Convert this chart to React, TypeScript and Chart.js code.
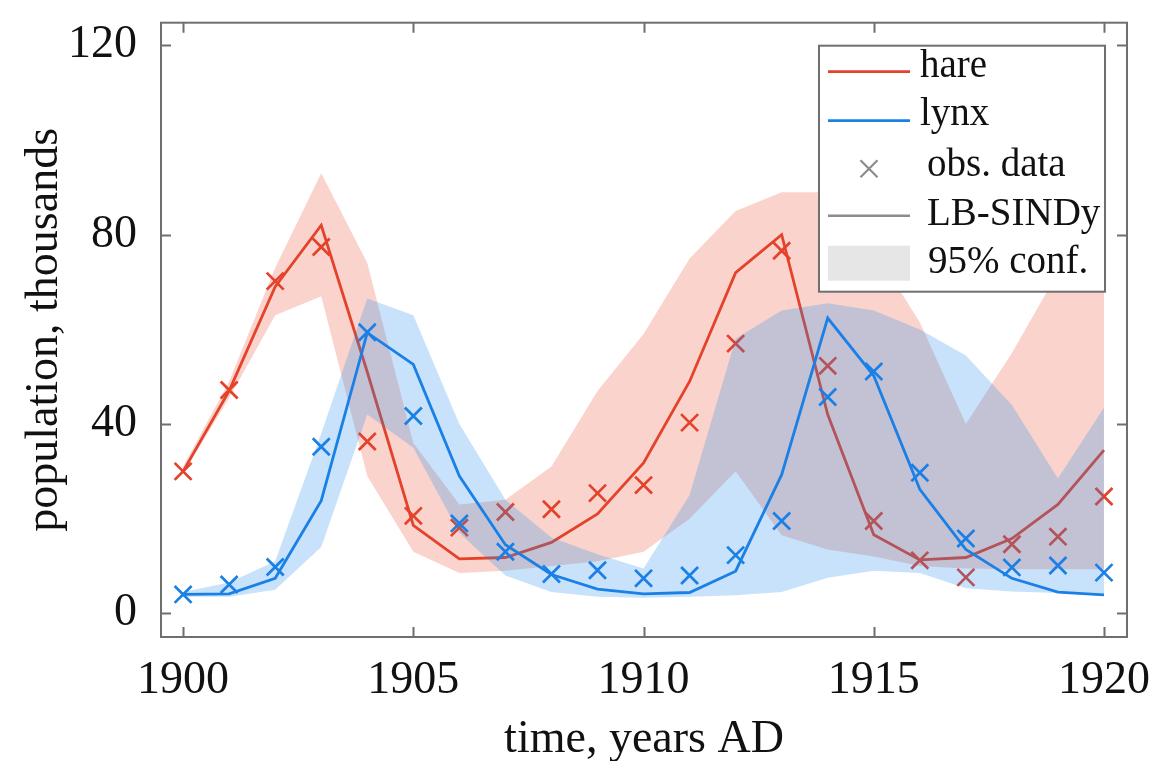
import React, { useEffect, useRef } from 'react';
import { Chart, registerables } from 'chart.js';

Chart.register(...registerables);

// ---------- data ----------
const years = [1900, 1901, 1902, 1903, 1904, 1905, 1906, 1907, 1908, 1909, 1910, 1911, 1912, 1913, 1914, 1915, 1916, 1917, 1918, 1919, 1920];
const hareObs = [30, 47.2, 70.2, 77.4, 36.3, 20.6, 18.1, 21.4, 22, 25.4, 27.1, 40.3, 57, 76.6, 52.3, 19.5, 11.2, 7.6, 14.6, 16.2, 24.7];
const lynxObs = [4, 6.1, 9.8, 35.2, 59.4, 41.7, 19, 13, 8.3, 9.1, 7.4, 8, 12.3, 19.5, 45.7, 51.1, 29.7, 15.8, 9.7, 10.1, 8.6];
const hareFit = [30, 47, 69, 82, 51, 18.6, 11.5, 11.8, 15, 21, 31.8, 49, 72, 80, 42, 16.6, 11.3, 11.8, 15.8, 23, 34.5];
const lynxFit = [4, 4.1, 7.4, 23.8, 59.3, 52.6, 29, 14.5, 8.2, 5.1, 4.1, 4.4, 8.9, 29.3, 62.4, 50.2, 26.2, 13.5, 7.4, 4.5, 3.9];
const hareUpper = [31, 49, 73, 93, 74, 36, 23, 24, 31, 47, 59, 75, 85, 89, 89, 77, 61.5, 40, 55, 72, 76];
const hareLower = [29.5, 45.5, 63, 67, 29, 13, 8.5, 9, 10, 11, 13, 20, 30, 16.5, 13.5, 12, 10, 9.5, 9.3, 9.3, 9.3];
const lynxUpper = [4.5, 6.5, 11, 38, 66.5, 63, 40, 24, 16, 12.5, 9.5, 25, 58, 64, 65.5, 64, 60, 54.5, 44, 28.5, 43.5];
const lynxLower = [3.5, 3.5, 5, 14, 42, 35, 17, 8, 4.5, 3.5, 3.3, 3.5, 3.8, 4.5, 7.5, 9, 8.5, 5.3, 4.6, 4.3, 4];

const xTickValues = [1900, 1905, 1910, 1915, 1920];
const yTickValues = [0, 40, 80, 120];
const legendLabels = ['hare', 'lynx', 'obs. data', 'LB-SINDy', '95% conf.'];
const xTitle = 'time, years AD';
const yTitle = 'population, thousands';

// ---------- styles ----------
const RED = '#e4422a';
const BLUE = '#1b80e6';
const RED_FILL = 'rgba(235, 80, 55, 0.25)';
const BLUE_FILL = 'rgba(30, 140, 235, 0.25)';
const FRAME = '#6f6f6f';
const FONT = '"Liberation Serif", "Times New Roman", serif';

const pts = (ys: number[]) => years.map((x, i) => ({ x, y: ys[i] }));

const bandEdge = (data: number[], order: number, fill: any, color: string) => ({
  type: 'line',
  data: pts(data),
  borderWidth: 0,
  borderColor: 'rgba(0,0,0,0)',
  backgroundColor: color,
  pointRadius: 0,
  tension: 0,
  fill,
  order,
});

const fitLine = (data: number[], color: string, order: number) => ({
  type: 'line',
  data: pts(data),
  borderColor: color,
  borderWidth: 2.8,
  pointRadius: 0,
  tension: 0,
  fill: false,
  order,
});

const obsPoints = (data: number[], color: string, order: number) => ({
  type: 'line',
  data: pts(data),
  showLine: false,
  pointStyle: 'crossRot',
  pointRadius: 12,
  pointBorderWidth: 2.7,
  pointBorderColor: color,
  pointBackgroundColor: color,
  fill: false,
  order,
});

const drawCross = (ctx: CanvasRenderingContext2D, x: number, y: number, h: number) => {
  ctx.beginPath();
  ctx.moveTo(x - h, y - h);
  ctx.lineTo(x + h, y + h);
  ctx.moveTo(x + h, y - h);
  ctx.lineTo(x - h, y + h);
  ctx.stroke();
};

const framePlugin = {
  id: 'frameAndLegend',
  afterDatasetsDraw(chart: any) {
    const { ctx, chartArea: a, scales } = chart;
    ctx.save();
    ctx.strokeStyle = FRAME;
    ctx.lineWidth = 2;
    ctx.strokeRect(a.left, a.top, a.right - a.left, a.bottom - a.top);
    const tl = 10;
    ctx.beginPath();
    xTickValues.forEach((v) => {
      const x = Math.round(scales.x.getPixelForValue(v)) + 0.5;
      ctx.moveTo(x, a.bottom);
      ctx.lineTo(x, a.bottom - tl);
      ctx.moveTo(x, a.top);
      ctx.lineTo(x, a.top + tl);
    });
    yTickValues.forEach((v) => {
      const y = Math.round(scales.y.getPixelForValue(v)) + 0.5;
      ctx.moveTo(a.left, y);
      ctx.lineTo(a.left + tl, y);
      ctx.moveTo(a.right, y);
      ctx.lineTo(a.right - tl, y);
    });
    ctx.stroke();
    ctx.restore();
  },
  afterDraw(chart: any) {
    const { ctx, chartArea: a } = chart;
    const left = a.right - 308;
    const right = a.right - 22;
    const top = a.top + 23;
    const bottom = a.top + 269;
    ctx.save();
    ctx.fillStyle = '#ffffff';
    ctx.fillRect(left, top, right - left, bottom - top);
    ctx.strokeStyle = FRAME;
    ctx.lineWidth = 2;
    ctx.strokeRect(left, top, right - left, bottom - top);

    const sx0 = left + 9;
    const sx1 = left + 91;
    const rows = [26, 75, 123, 170, 218];
    const baselines = [31, 79, 130, 179, 227];
    const textX = [101, 101, 108, 108, 109];

    ctx.lineWidth = 2.8;
    ctx.strokeStyle = RED;
    ctx.beginPath(); ctx.moveTo(sx0, top + rows[0]); ctx.lineTo(sx1, top + rows[0]); ctx.stroke();
    ctx.strokeStyle = BLUE;
    ctx.beginPath(); ctx.moveTo(sx0, top + rows[1]); ctx.lineTo(sx1, top + rows[1]); ctx.stroke();
    ctx.strokeStyle = '#8c8c8c';
    ctx.lineWidth = 2.2;
    drawCross(ctx, (sx0 + sx1) / 2, top + rows[2], 8.5);
    ctx.lineWidth = 2.4;
    ctx.beginPath(); ctx.moveTo(sx0, top + rows[3]); ctx.lineTo(sx1, top + rows[3]); ctx.stroke();
    ctx.fillStyle = '#e6e6e6';
    ctx.fillRect(sx0, top + 200, sx1 - sx0, 35);

    ctx.fillStyle = '#111111';
    ctx.font = `39px ${FONT}`;
    ctx.textAlign = 'left';
    ctx.textBaseline = 'alphabetic';
    legendLabels.forEach((t, i) => {
      ctx.fillText(t, left + textX[i], top + baselines[i]);
    });
    ctx.restore();
  },
};

export default function App() {
  const ref = useRef<HTMLCanvasElement>(null);
  useEffect(() => {
    const tickFont = { family: FONT, size: 46, lineHeight: 1.2 };
    const titleFont = { family: FONT, size: 46, lineHeight: 1 };
    const chart = new Chart(ref.current as HTMLCanvasElement, {
      type: 'line',
      data: {
        datasets: [
          bandEdge(hareLower, 100, false, RED_FILL),
          bandEdge(hareUpper, 99, 0, RED_FILL),
          fitLine(hareFit, RED, 98),
          obsPoints(hareObs, RED, 97),
          bandEdge(lynxLower, 96, false, BLUE_FILL),
          bandEdge(lynxUpper, 95, 4, BLUE_FILL),
          fitLine(lynxFit, BLUE, 94),
          obsPoints(lynxObs, BLUE, 93),
        ] as any,
      },
      options: {
        animation: false,
        responsive: false,
        events: [],
        layout: { padding: { left: 0, top: 6, right: 28, bottom: 0 } },
        plugins: {
          legend: { display: false },
          tooltip: { enabled: false },
          filler: { propagate: false },
        },
        scales: {
          x: {
            type: 'linear',
            min: 1899.52,
            max: 1920.5,
            grid: { display: false, drawTicks: false },
            border: { display: false },
            afterBuildTicks: (s: any) => {
              s.ticks = xTickValues.map((v) => ({ value: v }));
            },
            afterFit: (s: any) => {
              s.height = 124;
              s.paddingLeft = 0;
              s.paddingRight = 0;
              s.paddingTop = 0;
              s.paddingBottom = 0;
            },
            ticks: {
              font: tickFont,
              color: '#111111',
              padding: 16,
              maxRotation: 0,
              autoSkip: false,
              callback: (v: any) => String(v),
            },
            title: {
              display: true,
              text: xTitle,
              font: titleFont,
              color: '#111111',
              padding: { top: 0, bottom: -2 },
            },
          },
          y: {
            type: 'linear',
            min: -5,
            max: 124.8,
            grid: { display: false, drawTicks: false },
            border: { display: false },
            afterBuildTicks: (s: any) => {
              s.ticks = yTickValues.map((v) => ({ value: v }));
            },
            afterFit: (s: any) => {
              s.width = 153;
              s.paddingLeft = 0;
              s.paddingRight = 0;
              s.paddingTop = 0;
              s.paddingBottom = 0;
            },
            ticks: {
              font: tickFont,
              color: '#111111',
              padding: 24,
              autoSkip: false,
              callback: (v: any) => String(v),
            },
            title: {
              display: true,
              text: yTitle,
              font: titleFont,
              color: '#111111',
              padding: { top: 14, bottom: 0 },
            },
          },
        },
      } as any,
      plugins: [framePlugin],
    });
    return () => chart.destroy();
  }, []);
  return (
    <div style={{ width: 1147, height: 753 }}>
      <canvas ref={ref} width={1147} height={753} style={{ display: 'block' }} />
    </div>
  );
}
